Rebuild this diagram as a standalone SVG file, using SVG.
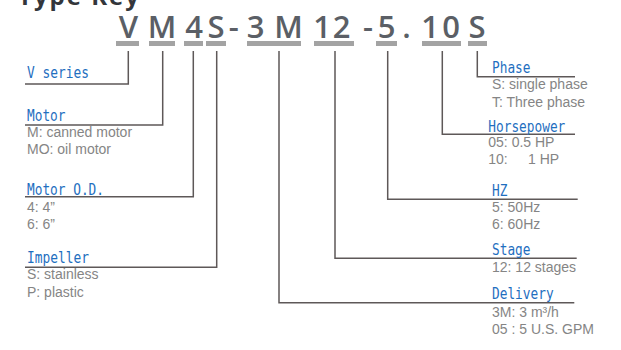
<svg xmlns="http://www.w3.org/2000/svg" width="621" height="350" viewBox="0 0 621 350">
<style>
.title{font-family:"Open Sans","Liberation Sans",sans-serif;font-weight:700;font-size:24px;fill:#33363b;letter-spacing:2px}
.code{font-family:"Open Sans","Liberation Sans",sans-serif;font-weight:600;font-size:31px;fill:#5b5f66;text-anchor:middle}
.bar{fill:#a3a3a3}
.lbl{font-family:"DejaVu Sans Mono","Liberation Mono",monospace;font-size:16px;fill:#1f6fbf}
.desc{font-family:"Liberation Sans","Noto Sans",sans-serif;font-size:14px;fill:#858585}
.conn path{fill:none;stroke:#5e5858;stroke-width:1.5}
</style>
<text class="title" x="18" y="5">Type Key</text>
<g id="code">
<text class="code" y="38"><tspan x="128.3">V</tspan><tspan x="162">M</tspan><tspan x="194">4</tspan><tspan x="216">S</tspan><tspan x="233.7">-</tspan><tspan x="255.5">3</tspan><tspan x="288.5">M</tspan><tspan x="322">1</tspan><tspan x="341.5">2</tspan><tspan x="368">-</tspan><tspan x="386.7">5</tspan><tspan x="406.5">.</tspan><tspan x="430">1</tspan><tspan x="451">0</tspan><tspan x="477">S</tspan></text>
<rect class="bar" x="116" y="41" width="23" height="5"/>
<rect class="bar" x="149" y="41" width="26" height="5"/>
<rect class="bar" x="184" y="41" width="19" height="5"/>
<rect class="bar" x="206" y="41" width="20" height="5"/>
<rect class="bar" x="247" y="41" width="54" height="5"/>
<rect class="bar" x="314" y="41" width="40" height="5"/>
<rect class="bar" x="376" y="41" width="21" height="5"/>
<rect class="bar" x="422" y="41" width="39" height="5"/>
<rect class="bar" x="468" y="41" width="19" height="5"/>
</g>
<g class="conn" id="connectors">
<path d="M128.3 51V84H25"/>
<path d="M162.7 51V125H25"/>
<path d="M193.3 51V196.7H25"/>
<path d="M216.7 51V267.3H25"/>
<path d="M279 51V302.7H574.3"/>
<path d="M335 51V258.3H576.7"/>
<path d="M387.7 51V199.3H577.7"/>
<path d="M442.3 51V134.3H575"/>
<path d="M477.3 51V76.7H575"/>
</g>
<g id="vseries"><text class="lbl" x="27" y="78" textLength="62" lengthAdjust="spacingAndGlyphs">V series</text></g>
<g id="motor"><text class="lbl" x="27" y="121" textLength="38.5" lengthAdjust="spacingAndGlyphs">Motor</text>
<text class="desc" x="27" y="137">M: canned motor</text>
<text class="desc" x="27" y="154">MO: oil motor</text></g>
<g id="motorod"><text class="lbl" x="27" y="195" textLength="77" lengthAdjust="spacingAndGlyphs">Motor O.D.</text>
<text class="desc" x="27" y="212">4: 4”</text>
<text class="desc" x="27" y="229">6: 6”</text></g>
<g id="impeller"><text class="lbl" x="27" y="263" textLength="62" lengthAdjust="spacingAndGlyphs">Impeller</text>
<text class="desc" x="27" y="279">S: stainless</text>
<text class="desc" x="27" y="297">P: plastic</text></g>
<g id="phase"><text class="lbl" x="492" y="73" textLength="38.5" lengthAdjust="spacingAndGlyphs">Phase</text>
<text class="desc" x="492" y="89">S: single phase</text>
<text class="desc" x="492" y="107">T: Three phase</text></g>
<g id="horsepower"><text class="lbl" x="488.3" y="131.7" textLength="77" lengthAdjust="spacingAndGlyphs">Horsepower</text>
<text class="desc" x="488.3" y="147">05: 0.5 HP</text>
<text class="desc" y="163.5"><tspan x="488.3">10:</tspan><tspan x="528">1 HP</tspan></text></g>
<g id="hz"><text class="lbl" x="492" y="196" textLength="15.4" lengthAdjust="spacingAndGlyphs">HZ</text>
<text class="desc" x="492" y="212">5: 50Hz</text>
<text class="desc" x="492" y="229">6: 60Hz</text></g>
<g id="stage"><text class="lbl" x="492" y="255" textLength="38.5" lengthAdjust="spacingAndGlyphs">Stage</text>
<text class="desc" x="492" y="272">12: 12 stages</text></g>
<g id="delivery"><text class="lbl" x="492" y="299.3" textLength="61.6" lengthAdjust="spacingAndGlyphs">Delivery</text>
<text class="desc" x="492" y="317">3M: 3 m³/h</text>
<text class="desc" x="492" y="334">05 : 5 U.S. GPM</text></g>
</svg>
